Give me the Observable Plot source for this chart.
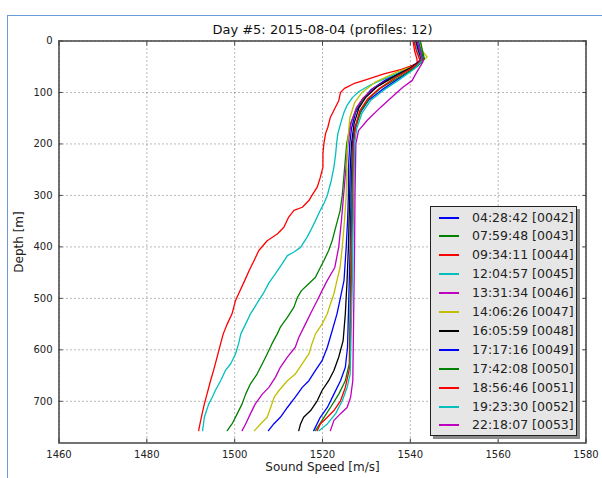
<!DOCTYPE html>
<html>
<head>
<meta charset="utf-8">
<script src="https://cdn.jsdelivr.net/npm/d3@7"></script>
<script src="https://cdn.jsdelivr.net/npm/@observablehq/plot@0.6"></script>
<style>
  html, body { margin: 0; padding: 0; background: #fff; }
  #wrap { position: relative; width: 602px; height: 478px; overflow: hidden; font-family: "DejaVu Sans", sans-serif; }
  #outer { position: absolute; left: 7px; top: 15px; width: 600px; height: 470px; border-left: 1.5px solid #6b9ad8; border-top: 1.5px solid #6b9ad8; }
  #chart { position: absolute; left: 0; top: 0; }
  #legend { position: absolute; left: 430px; top: 206px; width: 147px; height: 230px; box-sizing: border-box;
            background: #e6e6e6; border: 1px solid #222; box-shadow: 3px 3px 0 #8a8a8a; }
  .row { position: absolute; left: 0; height: 19px; width: 145px; }
  .row .sw { position: absolute; left: 8px; width: 20px; top: 9px; height: 2px; }
  .row .lb { position: absolute; left: 41px; top: 0; line-height: 19px; font-size: 12.5px; color: #222; white-space: nowrap; }
</style>
</head>
<body>
<div id="wrap">
  <div id="outer"></div>
  <div id="chart"></div>
  <div id="legend"></div>
</div>
<script>
// ---- data (depth [m], sound speed [m/s]) ----
const titleText = "Day #5: 2015-08-04 (profiles: 12)";
const xLabel = "Sound Speed [m/s]";
const yLabel = "Depth [m]";
const xTicks = [1460, 1480, 1500, 1520, 1540, 1560, 1580];
const yTicks = [0, 100, 200, 300, 400, 500, 600, 700];
const xDomain = [1460, 1580];
const yDomain = [0, 781];

const labels = ["04:28:42 [0042]", "07:59:48 [0043]", "09:34:11 [0044]", "12:04:57 [0045]",
                "13:31:34 [0046]", "14:06:26 [0047]", "16:05:59 [0048]", "17:17:16 [0049]",
                "17:42:08 [0050]", "18:56:46 [0051]", "19:23:30 [0052]", "22:18:07 [0053]"];
const colors = ["#0000ff", "#008000", "#ff0000", "#00bfbf", "#bf00bf", "#bfbf00", "#000000",
                "#0000ff", "#008000", "#ff0000", "#00bfbf", "#bf00bf"];

const p0042 = [[0,1541.2],[20,1541.8],[38,1542.5],[55,1539],[75,1534.5],[95,1531],[115,1529],[140,1527.5],[170,1526.6],[200,1526.2],[250,1525.9],[300,1525.9],[350,1525.7],[400,1525.4],[465,1524.9],[498,1524.1],[530,1523.3],[563,1522.2],[595,1521.1],[621,1519.9],[640,1518.4],[660,1516.9],[673,1515.4],[692,1513.8],[712,1512.0],[731,1510.4],[744,1508.9],[757,1507.7]];
const p0043 = [[0,1542],[20,1542.6],[35,1543],[50,1541],[70,1536.5],[90,1532],[110,1529.5],[130,1527.8],[160,1526.4],[200,1525.5],[250,1525.0],[300,1524.5],[330,1524.0],[362,1523.0],[388,1522.2],[407,1521.4],[427,1520.3],[440,1519.5],[459,1518.4],[472,1516.8],[485,1515.2],[498,1514.3],[517,1513.5],[537,1512.0],[556,1510.4],[569,1509.7],[588,1508.5],[608,1507.4],[627,1506.3],[647,1505.1],[666,1503.6],[686,1502.5],[705,1501.7],[724,1500.6],[744,1499.4],[757,1498.3]];
const p0044 = [[0,1540.6],[20,1541],[35,1541.5],[44,1541.6],[55,1538],[64,1534],[75,1530],[83,1527.1],[92,1525],[100,1524.1],[116,1523.7],[148,1521.8],[168,1521.2],[180,1520.7],[200,1520.3],[219,1520.1],[245,1520.1],[265,1519.5],[284,1518.8],[300,1517.6],[310,1516.9],[323,1515.4],[329,1513.5],[342,1512.3],[362,1511.2],[375,1509.7],[388,1507.4],[407,1505.5],[427,1504.4],[446,1503.3],[467,1502.2],[491,1500.9],[504,1500.2],[530,1499.4],[550,1498.3],[569,1497.4],[588,1496.8],[614,1496.0],[640,1495.2],[660,1494.5],[686,1493.7],[705,1493.1],[724,1492.6],[744,1492.1],[757,1491.8]];
const p0045 = [[0,1541],[20,1541.6],[35,1542.2],[48,1541.5],[60,1538],[72,1534.5],[85,1531],[98,1528.3],[110,1526.8],[125,1525.6],[141,1524.8],[161,1524.1],[180,1523.5],[200,1523.2],[219,1523.0],[245,1522.6],[271,1522.0],[290,1521.4],[300,1521.1],[316,1520.3],[329,1519.5],[349,1518.4],[368,1517.3],[381,1516.5],[401,1515.0],[410,1513.5],[417,1512.0],[433,1510.8],[452,1509.3],[470,1507.8],[491,1506.5],[504,1505.5],[530,1503.6],[550,1502.5],[569,1501.4],[588,1500.9],[608,1500.2],[627,1499.1],[640,1497.9],[660,1496.8],[679,1495.6],[692,1494.9],[705,1494.1],[718,1493.6],[731,1493.1],[750,1492.8],[757,1492.7]];
const p0046 = [[0,1541.5],[20,1542],[35,1542.5],[50,1540.5],[70,1536],[90,1532],[110,1529.3],[130,1527.7],[160,1526.5],[200,1525.8],[250,1525.3],[300,1524.8],[350,1524.3],[400,1523.7],[440,1522.8],[465,1521.1],[485,1519.9],[504,1518.8],[524,1517.6],[550,1516.1],[576,1514.6],[595,1513.8],[614,1512.0],[634,1510.4],[653,1509.3],[673,1507.8],[686,1506.3],[705,1504.7],[724,1503.6],[744,1502.5],[757,1501.7]];
const p0047 = [[0,1542],[20,1542.8],[31,1543.8],[45,1542],[60,1537],[80,1532],[100,1529],[120,1527.3],[150,1526.2],[200,1525.7],[250,1525.5],[300,1525.4],[350,1525.0],[400,1524.5],[440,1524],[465,1523.3],[491,1522.6],[511,1521.8],[530,1521.1],[550,1519.9],[569,1518.4],[588,1517.6],[608,1516.9],[627,1515.4],[647,1513.8],[660,1512.0],[679,1510.1],[692,1509.0],[712,1508.2],[731,1507.4],[744,1505.9],[757,1504.5]];
const p0048 = [[0,1541.3],[20,1542],[37,1542.6],[52,1540],[70,1536],[90,1532.3],[110,1529.8],[130,1528.3],[160,1527.2],[200,1526.6],[250,1526.3],[300,1526.2],[400,1525.9],[465,1525.6],[530,1525.2],[582,1524.7],[614,1523.7],[640,1522.6],[660,1521.4],[679,1519.9],[699,1518.8],[718,1517.3],[731,1515.7],[744,1515.0],[757,1514.6]];
const p0049 = [[0,1541.8],[20,1542.3],[38,1542.8],[55,1540.5],[75,1537],[95,1533.5],[115,1530.5],[140,1528.5],[170,1527.3],[200,1526.8],[300,1526.5],[400,1526.3],[465,1526.1],[595,1525.7],[634,1525.2],[660,1524.1],[686,1522.6],[712,1521.1],[731,1519.5],[757,1518.0]];
const p0050 = [[0,1542.3],[20,1542.8],[35,1543.2],[50,1541.5],[70,1537.5],[90,1533.5],[110,1530.8],[135,1528.8],[170,1527.5],[200,1527],[300,1526.7],[400,1526.5],[465,1526.4],[627,1526.1],[660,1525.2],[686,1523.7],[712,1521.8],[737,1519.9],[757,1518.4]];
const p0051 = [[0,1540.8],[20,1541.4],[40,1542.3],[55,1540],[72,1536.5],[92,1533],[112,1530.3],[135,1528.5],[170,1527.4],[200,1527.1],[300,1526.9],[400,1526.7],[465,1526.6],[634,1526.2],[673,1525.2],[699,1524.1],[718,1522.6],[731,1521.1],[744,1519.5],[757,1518.8]];
const p0052 = [[0,1541.6],[20,1542.2],[38,1542.7],[55,1540.8],[75,1537.5],[95,1534],[115,1531],[140,1529],[170,1527.8],[200,1527.3],[300,1527.1],[400,1526.9],[465,1526.8],[647,1526.3],[673,1525.6],[699,1524.5],[724,1523.0],[744,1521.1],[757,1519.2]];
const p0053 = [[0,1541.5],[20,1542.2],[40,1542.9],[60,1541.5],[77,1540.4],[90,1538.3],[106,1536.2],[129,1533.2],[154,1530.2],[174,1528.2],[200,1527.6],[300,1527.4],[400,1527.3],[465,1527.2],[660,1526.9],[692,1526.4],[712,1525.6],[724,1524.1],[737,1522.6],[757,1521.8]];

const profiles = [p0042, p0043, p0044, p0045, p0046, p0047, p0048, p0049, p0050, p0051, p0052, p0053];

// ---- chart ----
const font = "DejaVu Sans, sans-serif";
const lineMarks = profiles.map((pts, i) =>
  Plot.line(pts, {x: d => d[1], y: d => d[0], stroke: colors[i], strokeWidth: 1.3}));

const chart = Plot.plot({
  width: 602,
  height: 478,
  marginTop: 40.5,
  marginLeft: 58.5,
  marginRight: 16.5,
  marginBottom: 35.5,
  style: {fontFamily: font, fontSize: "10px", color: "#222", background: "transparent", overflow: "visible"},
  x: {domain: xDomain, label: null},
  y: {domain: yDomain, reverse: true, label: null},
  marks: [
    Plot.gridX(xTicks, {stroke: "#000", strokeOpacity: 0.55, strokeDasharray: "1,3", strokeWidth: 1}),
    Plot.gridY(yTicks, {stroke: "#000", strokeOpacity: 0.55, strokeDasharray: "1,3", strokeWidth: 1}),
    ...lineMarks,
    Plot.axisX(xTicks, {anchor: "bottom", tickSize: -4, tickPadding: 12.2, label: null, tickFormat: d => String(d), stroke: "#444", fill: "#222"}),
    Plot.axisX(xTicks, {anchor: "top", tickSize: -4, label: null, tickFormat: () => "", stroke: "#444"}),
    Plot.axisY(yTicks, {anchor: "left", tickSize: -4, tickPadding: 10.5, label: null, tickFormat: d => String(d), stroke: "#444", fill: "#222"}),
    Plot.axisY(yTicks, {anchor: "right", tickSize: -4, label: null, tickFormat: () => "", stroke: "#444"}),
    Plot.frame({stroke: "#444", strokeWidth: 1.5}),
    Plot.text([titleText], {frameAnchor: "top", textAnchor: "middle", lineAnchor: "middle", dy: -11.5, fontSize: 13, fill: "#111"}),
    Plot.text([xLabel], {frameAnchor: "bottom", textAnchor: "middle", lineAnchor: "middle", dy: 24.5, fontSize: 12, fill: "#222"}),
    Plot.text([yLabel], {frameAnchor: "left", textAnchor: "middle", lineAnchor: "middle", dx: -39.5, rotate: -90, fontSize: 12, fill: "#222"})
  ]
});
document.getElementById("chart").appendChild(chart);

// ---- legend ----
const legend = document.getElementById("legend");
labels.forEach((lab, i) => {
  const row = document.createElement("div");
  row.className = "row";
  row.style.top = Math.round(0.5 + i * 18.9) + "px";
  const sw = document.createElement("div");
  sw.className = "sw";
  sw.style.background = colors[i];
  const lb = document.createElement("div");
  lb.className = "lb";
  lb.textContent = lab;
  row.appendChild(sw);
  row.appendChild(lb);
  legend.appendChild(row);
});
</script>
</body>
</html>
